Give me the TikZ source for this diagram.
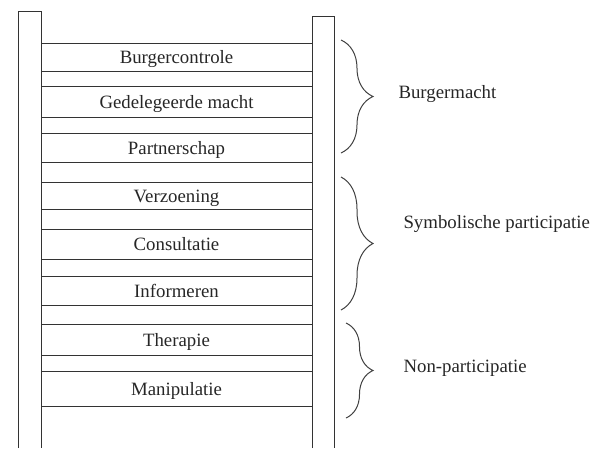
\documentclass[tikz,border=0pt]{standalone}
\usepackage{fontspec}
\setmainfont{Liberation Serif}
\usetikzlibrary{positioning,decorations.pathreplacing}
\tikzset{
  rail/.style={draw=black!80, line width=1pt},
  rung/.style={rectangle, draw=black!80, line width=1pt, minimum width=271pt, minimum height=#1, inner sep=0pt, text height=15pt, text depth=2pt, text centered, text=black!85, font=\fontsize{18.8}{22}\selectfont},
  brc/.style={draw=black!75, line width=1pt, decorate, decoration={brace, amplitude=#1}},
  grp/.style={anchor=west, text=black!85, font=\fontsize{18.8}{22}\selectfont}
}
\begin{document}
\begin{tikzpicture}[x=1pt, y=-1pt]
	\useasboundingbox (0,0) rectangle (603,448);

	% ladder rails
	\draw[rail] (18,448) -- (18,11) -- (41,11) -- (41,448);
	\draw[rail] (312,448) -- (312,16) -- (334,16) -- (334,448);

	% rungs
	\node[rung=28pt] (burgercontrole) at (176.5,57) {Burgercontrole};
	\node[rung=31pt] (gedelegeerd) at (176.5,101.5) {Gedelegeerde macht};
	\node[rung=29pt] (partnerschap) at (176.5,147.5) {Partnerschap};
	\node[rung=27pt] (verzoening) at (176.5,195.5) {Verzoening};
	\node[rung=30pt] (consultatie) at (176.5,244) {Consultatie};
	\node[rung=29pt] (informeren) at (176.5,290.5) {Informeren};
	\node[rung=31pt] (therapie) at (176.5,339.5) {Therapie};
	\node[rung=35pt] (manipulatie) at (176.5,388.5) {Manipulatie};

	% braces
	\coordinate (macht-top) at (341,40);
	\coordinate (macht-bot) at (341,153);
	\coordinate (symb-top) at (341,177);
	\coordinate (symb-bot) at (341,310);
	\coordinate (non-top) at (346,323);
	\coordinate (non-bot) at (346,418);
	\draw[brc=32pt] (macht-top) -- (macht-bot);
	\draw[brc=32pt] (symb-top) -- (symb-bot);
	\draw[brc=27pt] (non-top) -- (non-bot);

	\node[grp] (burgermacht) at (395,94) {Burgermacht};
	\node[grp] (symbolisch) at (400,224) {Symbolische participatie};
	\node[grp] (nonpart) at (400,368) {Non-participatie};
\end{tikzpicture}
\end{document}
